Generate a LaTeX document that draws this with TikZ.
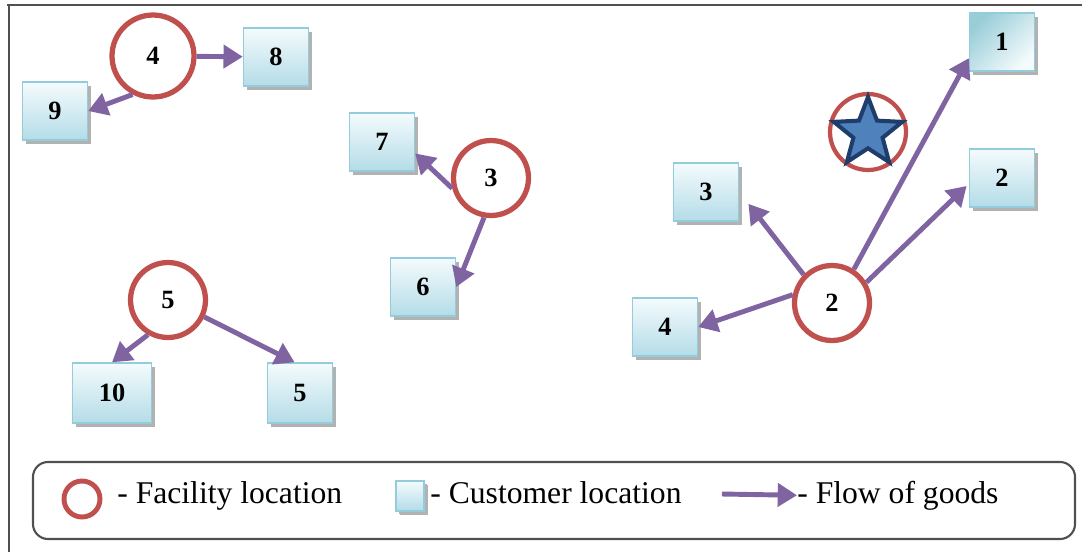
\documentclass[tikz,border=0pt]{standalone}
\usepackage{fontspec}
\setmainfont{Liberation Serif}
\usetikzlibrary{arrows.meta,shapes.geometric,shadows}
\definecolor{facred}{HTML}{C0504D}
\definecolor{flowpurple}{HTML}{8064A2}
\definecolor{custtop}{HTML}{F4FBFD}
\definecolor{custbot}{HTML}{B4DCE7}
\definecolor{custline}{HTML}{93CDDD}
\definecolor{starblue}{HTML}{4F81BD}
\definecolor{starline}{HTML}{1F3D6B}
\definecolor{framegray}{HTML}{505050}
\begin{document}
\begin{tikzpicture}[x=0.02cm,y=-0.02cm,
    facility/.style={circle,draw=facred,line width=3pt,minimum size=1.5cm,inner sep=0pt,
        font=\bfseries\fontsize{15}{18}\selectfont},
    customer/.style={rectangle,draw=custline,line width=0.8pt,top color=custtop,bottom color=custbot,
        minimum width=1.3cm,minimum height=1.16cm,inner sep=0pt,
        font=\bfseries\fontsize{15}{18}\selectfont,
        general shadow={fill=black!30,shadow xshift=2.2pt,shadow yshift=-2.2pt}},
    flow/.style={draw=flowpurple,line width=2.8pt,-{Triangle[length=11pt,width=13pt]}},
    legendtext/.style={inner sep=0pt,anchor=base west,font=\fontsize{18}{22}\selectfont}]
\useasboundingbox (0,0) rectangle (1082,552);
\draw[framegray,line width=1.6pt] (7,5) -- (1082,5);
\draw[framegray,line width=1.6pt] (9,5) -- (9,552);

\node[facility,minimum size=1.64cm] (f4) at (153,56) {4};
\node[customer] (c8) at (276,57) {8};
\node[customer] (c9) at (55,111) {9};

\node[facility] (f3) at (491,178) {3};
\node[customer] (c7) at (382,142) {7};
\node[customer] (c6) at (423,287) {6};

\node[facility] (f5) at (168,300) {5};
\node[customer,minimum width=1.58cm,minimum height=1.2cm] (c10) at (112,393) {10};
\node[customer,minimum height=1.2cm] (c5) at (300,393) {5};

\node[facility] (f2) at (832,303) {2};
\node[customer] (c3) at (706,192) {3};
\node[customer] (c4) at (665,327) {4};
\node[customer,top color=custbot!85!teal,bottom color=custtop,shading angle=45] (c1) at (1002,42) {1};
\node[customer] (c2) at (1002,178) {2};

\node[circle,draw=facred,line width=2.4pt,minimum size=1.52cm,inner sep=0pt] (fs) at (868,132) {};
\node[star,star points=5,star point ratio=2.35,fill=starblue,draw=starline,line width=2.3pt,
    minimum size=1.44cm,inner sep=0pt] (st) at (868,133) {};

\draw[flow] (f4) -- (c8);
\draw[flow] (f4.242) -- (c9.east);
\draw[flow] (f3.195) -- (c7.-19);
\draw[flow] (f3.260) -- (c6.east);
\draw[flow] (f5.240) -- (c10.north);
\draw[flow] (f5.-25) -- (c5.100);
\draw[flow,shorten >=0.3cm] (f2.135) -- (c3.east);
\draw[flow] (f2.168) -- (c4.east);
\draw[flow] (f2.57) -- (c1.206);
\draw[flow,shorten >=0.06cm] (f2.31) -- (c2.190);

\draw[framegray,line width=1.2pt,rounded corners=0.3cm] (33,462) rectangle (1075,539);
\node[facility,line width=2.8pt,minimum size=0.72cm] (lf) at (82,499) {};
\node[legendtext] (lft) at (117,503) {- Facility location};
\node[customer,minimum width=0.56cm,minimum height=0.6cm,general shadow={fill=black!30,shadow xshift=1.5pt,shadow yshift=-1.5pt}] (lc) at (410,496) {};
\node[legendtext] (lct) at (430,503) {- Customer location};
\coordinate (la) at (722,494);
\node[legendtext] (lgt) at (797,503) {- Flow of goods};
\draw[flow] (la) -- (lgt.west);
\end{tikzpicture}
\end{document}
